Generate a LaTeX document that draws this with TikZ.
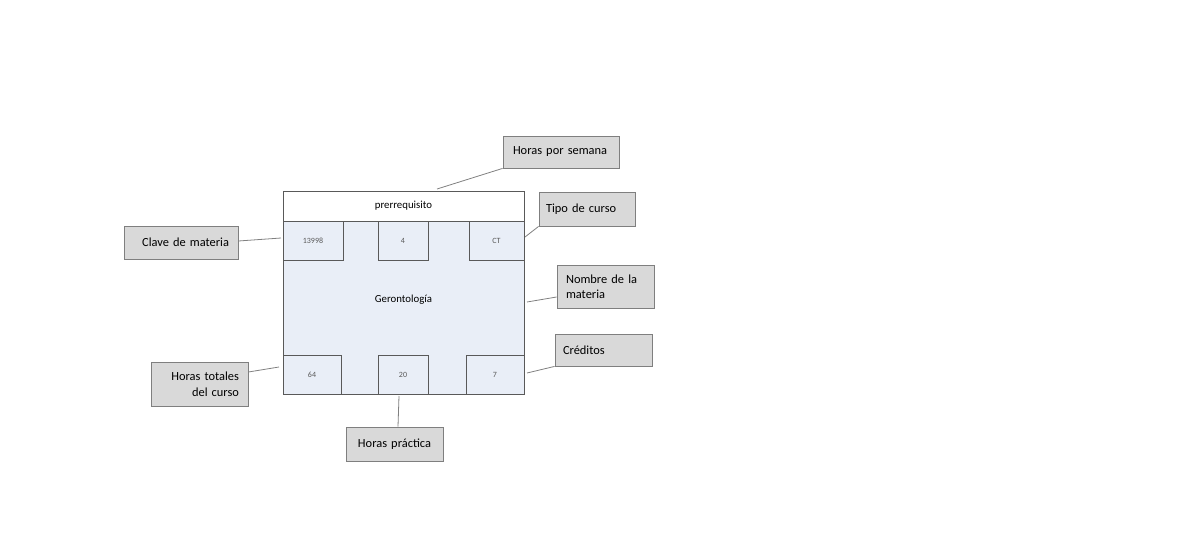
\documentclass[tikz,border=0pt]{standalone}
\usepackage{fontspec}
\setmainfont{Carlito}
\definecolor{boxblue}{HTML}{E9EEF7}
\definecolor{lblfill}{HTML}{D9D9D9}
\definecolor{lblline}{HTML}{7F7F7F}
\definecolor{boxline}{HTML}{595959}
\definecolor{conn}{HTML}{808080}
\begin{document}
\begin{tikzpicture}[x=1pt,y=-1pt,
  cell/.style={draw=boxline,fill=boxblue,line width=0.8pt,minimum height=39pt,inner sep=0pt,font=\fontsize{8}{9}\selectfont,text=boxline},
  lbl/.style={draw=lblline,fill=lblfill,line width=0.8pt,inner ysep=0pt,font=\fontsize{12.4}{15.5}\selectfont},
  conn/.style={draw=conn,line width=0.8pt}]
\useasboundingbox (0,0) rectangle (1200,541);
% main box
\node[draw=boxline,fill=boxblue,line width=0.8pt,minimum width=241pt,minimum height=203pt,inner sep=0pt] (main) at (403.5,292.5) {};
\node[draw=boxline,fill=white,line width=0.8pt,minimum width=241pt,minimum height=30pt,inner sep=0pt,font=\fontsize{10.8}{12}\selectfont] (hdr) at (403.5,206) {prerrequisito};
\node[font=\fontsize{10.8}{12}\selectfont,inner sep=0pt] (name) at (403.5,300) {Gerontología};
\node[cell,minimum width=60pt] (b1) at (313,240.5) {13998};
\node[cell,minimum width=50pt] (b2) at (403,240.5) {4};
\node[cell,minimum width=55pt] (b3) at (496.5,240.5) {CT};
\node[cell,minimum width=58pt] (b4) at (312,374.5) {64};
\node[cell,minimum width=50pt] (b5) at (403,374.5) {20};
\node[cell,minimum width=58pt] (b6) at (495,374.5) {7};
% labels
\node[lbl,inner xsep=10pt,text width=96pt,align=left,minimum height=32pt] (L1) at (561,152) {Horas por semana};
\node[lbl,inner xsep=7pt,text width=82pt,align=left,minimum height=34pt] (L2) at (587,209) {Tipo de curso};
\node[lbl,inner xsep=9pt,text width=96pt,align=right,minimum height=33pt] (L3) at (181,242.5) {Clave de materia};
\node[lbl,inner xsep=9pt,text width=79pt,align=left,minimum height=43pt] (L4) at (605.5,286.5) {Nombre de la\\materia};
\node[lbl,inner xsep=8pt,text width=81pt,align=left,minimum height=32pt] (L5) at (603.5,350) {Créditos};
\node[lbl,inner xsep=9pt,text width=79pt,align=right,minimum height=44pt] (L6) at (199.5,384) {Horas totales\\del curso};
\node[lbl,inner xsep=6pt,text width=85pt,align=center,minimum height=34pt] (L7) at (394.5,444) {Horas práctica};
% connector ends
\coordinate (e1) at (437,189);
\coordinate (e2) at (525,237);
\coordinate (e3) at (281,238);
\coordinate (e4) at (527,302);
\coordinate (e5) at (527,373);
\coordinate (e6) at (279,367);
\coordinate (e7) at (399,396);
\draw[conn] (L1.south west) -- (e1);
\draw[conn] (L2.south west) -- (e2);
\draw[conn] ([yshift=1.5pt]L3.east) -- (e3);
\draw[conn] ([yshift=-10.5pt]L4.west) -- (e4);
\draw[conn] (L5.south west) -- (e5);
\draw[conn] ([yshift=12pt]L6.east) -- (e6);
\draw[conn] ([xshift=3.5pt]L7.north) -- (e7);
\end{tikzpicture}
\end{document}
